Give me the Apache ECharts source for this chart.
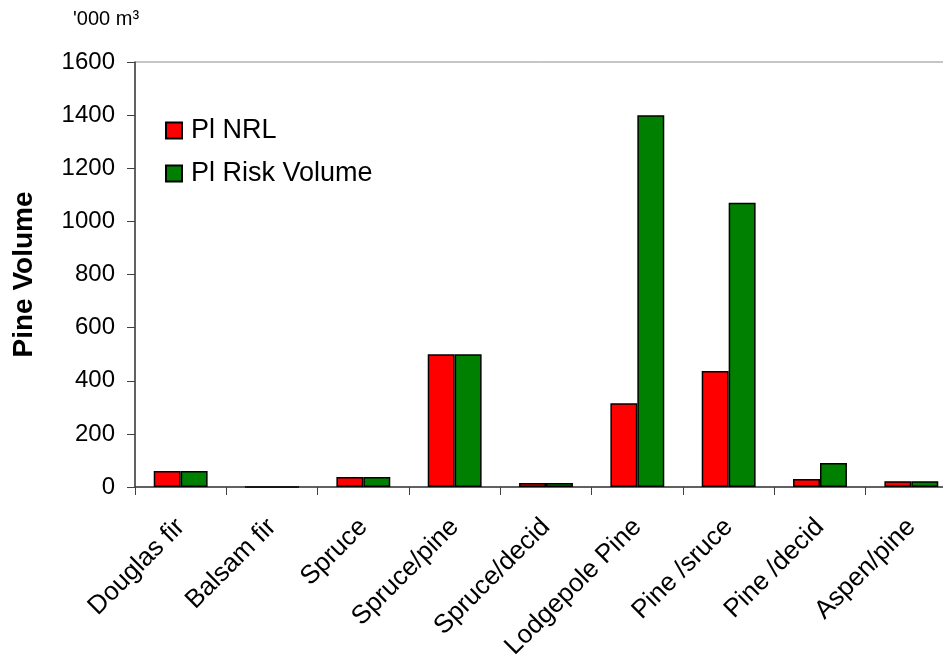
<!DOCTYPE html>
<html>
<head>
<meta charset="utf-8">
<script src="https://cdn.jsdelivr.net/npm/echarts@6/dist/echarts.min.js"></script>
<style>
  html, body { margin: 0; padding: 0; background: #fff; }
  #chart { width: 943px; height: 656px; }
</style>
</head>
<body>
<div id="chart"></div>
<script>
// Forest types along the x axis
const categories = ['Douglas fir', 'Balsam fir', 'Spruce', 'Spruce/pine', 'Spruce/decid',
                    'Lodgepole Pine', 'Pine /sruce', 'Pine /decid', 'Aspen/pine'];
// Pine volume, thousand cubic metres
const plNrl = [60, 0, 38, 500, 15, 315, 437, 30, 22];
const plRiskVolume = [60, 0, 38, 500, 15, 1400, 1070, 90, 22];
const yTicks = [0, 200, 400, 600, 800, 1000, 1200, 1400, 1600];

const FONT = '"Liberation Sans", Arial, sans-serif';
const chart = echarts.init(document.getElementById('chart'), null, { renderer: 'canvas' });

chart.setOption({
  animation: false,
  backgroundColor: '#ffffff',
  textStyle: { fontFamily: FONT },
  grid: {
    left: 135, top: 62, width: 822, height: 425,
    outerBoundsMode: 'none', containLabel: false,
    show: true, borderColor: '#8c8c8c', borderWidth: 1, backgroundColor: 'transparent'
  },
  graphic: [{
    type: 'text', left: 73, top: 9,
    style: { text: "'000 m³", font: '20px ' + FONT, fill: '#000' }
  }],
  legend: {
    orient: 'vertical', left: 160, top: 112,
    itemWidth: 16, itemHeight: 16, itemGap: 16,
    icon: 'rect',
    textStyle: { fontSize: 27, color: '#000', fontFamily: FONT, padding: [0, 0, 0, 4] },
    data: ['Pl NRL', 'Pl Risk Volume']
  },
  xAxis: {
    type: 'category',
    data: categories,
    axisLine: { lineStyle: { color: '#404040', width: 1.5 } },
    axisTick: { show: true, alignWithLabel: false, length: 8, lineStyle: { color: '#404040' } },
    axisLabel: { rotate: 45, fontSize: 26, color: '#000', margin: 36, fontFamily: FONT, interval: 0 }
  },
  yAxis: {
    type: 'value',
    min: yTicks[0], max: yTicks[yTicks.length - 1], interval: 200,
    name: 'Pine Volume',
    nameLocation: 'middle', nameGap: 97, nameRotate: 90,
    nameTextStyle: { fontSize: 28, fontWeight: 'bold', color: '#000', fontFamily: FONT },
    axisLine: { show: true, lineStyle: { color: '#404040', width: 1.5 } },
    axisTick: { show: true, length: 8, lineStyle: { color: '#404040' } },
    axisLabel: { fontSize: 24, color: '#000', margin: 20, fontFamily: FONT,
                 formatter: v => String(v) },
    splitLine: { show: false }
  },
  series: [
    {
      name: 'Pl NRL', type: 'bar', data: plNrl,
      barGap: '0%', barCategoryGap: '41%',
      itemStyle: { color: '#ff0000', borderColor: '#000', borderWidth: 1.5 }
    },
    {
      name: 'Pl Risk Volume', type: 'bar', data: plRiskVolume,
      barGap: '0%', barCategoryGap: '41%',
      itemStyle: { color: '#008000', borderColor: '#000', borderWidth: 1.5 }
    }
  ]
});
</script>
</body>
</html>
